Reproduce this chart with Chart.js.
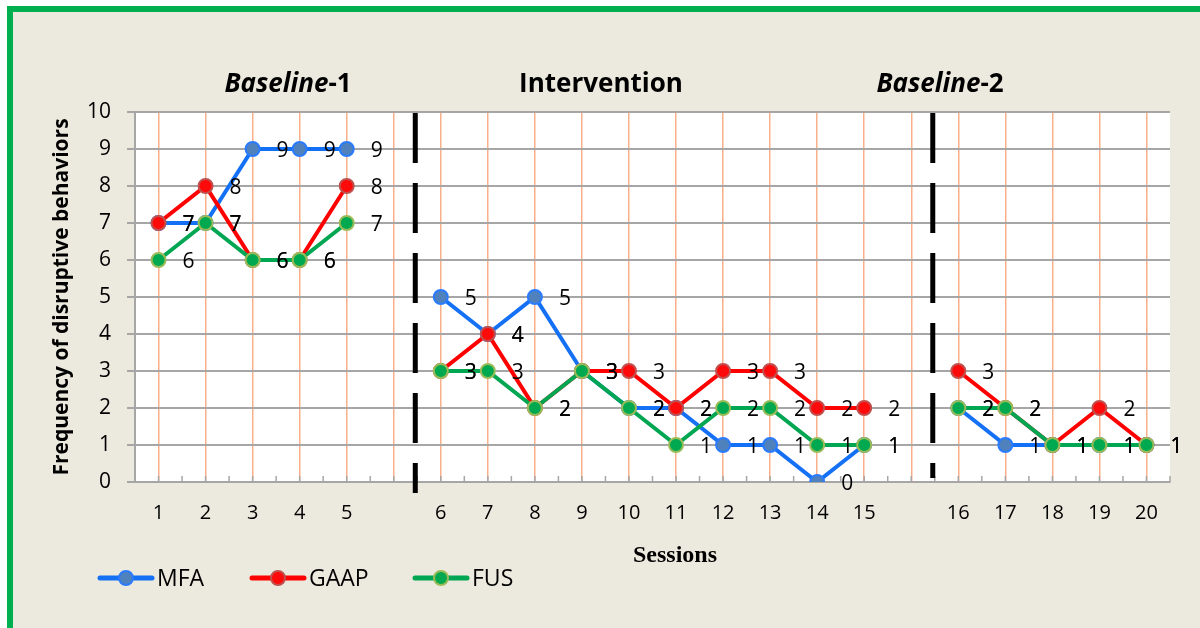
<!DOCTYPE html>
<html>
<head>
<meta charset="utf-8">
<script src="https://cdn.jsdelivr.net/npm/chart.js@4.4.0/dist/chart.umd.min.js"></script>
<style>
  body { margin: 0; background: #fff; }
  #wrap { width: 1200px; height: 628px; }
</style>
</head>
<body>
<div id="wrap"><canvas id="chart"></canvas></div>
<script>
// sessions, with an empty slot at each phase change
const sessions = ['1', '2', '3', '4', '5', '', '6', '7', '8', '9', '10', '11', '12', '13', '14', '15', '', '16', '17', '18', '19', '20'];
const mfa  = [7, 7, 9, 9, 9, null, 5, 4, 5, 3, 2, 2, 1, 1, 0, 1, null, 2, 1, 1, 1, 1];
const gaap = [7, 8, 6, 6, 8, null, 3, 4, 2, 3, 3, 2, 3, 3, 2, 2, null, 3, 2, 1, 2, 1];
const fus  = [6, 7, 6, 6, 7, null, 3, 3, 2, 3, 2, 1, 2, 2, 1, 1, null, 2, 2, 1, 1, 1];
const seriesNames = ['MFA', 'GAAP', 'FUS'];
// phase changes sit between these slots
const phaseBreaks = [[5, 6], [16, 17]];

const FONT = "'Open Sans', sans-serif";
Chart.defaults.font.family = FONT;
Chart.defaults.color = '#000';

const colors = {
  MFA:  { line: '#1470F5', fill: '#4F81BD', edge: '#2A7BFF' },
  GAAP: { line: '#FF0000', fill: '#FF0A0A', edge: '#C0504D' },
  FUS:  { line: '#00A651', fill: '#00A84F', edge: '#9BBB59' }
};

function makeSet(name, values, order) {
  const c = colors[name];
  return {
    label: name,
    data: values,
    order: order,
    borderColor: c.line,
    borderWidth: 4,
    pointBackgroundColor: c.fill,
    pointBorderColor: c.edge,
    pointBorderWidth: 2,
    pointRadius: 7,
    pointHoverRadius: 7,
    spanGaps: false,
    tension: 0
  };
}

const decor = {
  id: 'decor',
  beforeDraw(chart) {
    const ctx = chart.ctx, a = chart.chartArea;
    ctx.save();
    ctx.fillStyle = '#fff';
    ctx.fillRect(0, 0, 1200, 628);
    ctx.fillStyle = '#ECE9DE';
    ctx.fillRect(7, 6, 1193, 622);
    ctx.fillStyle = '#00B050';
    ctx.fillRect(7, 6, 1193, 6);
    ctx.fillRect(7, 6, 6, 622);
    ctx.fillStyle = '#fff';
    ctx.fillRect(a.left, a.top, a.right - a.left, a.bottom - a.top);
    ctx.restore();
  },
  beforeDatasetsDraw(chart) {
    const ctx = chart.ctx, a = chart.chartArea, x = chart.scales.x;
    ctx.save();
    // small inner ticks along the x axis
    ctx.strokeStyle = '#A6A6A6';
    ctx.lineWidth = 1.5;
    for (let i = -0.5; i <= sessions.length - 0.5; i += 0.5) {
      const px = x.getPixelForValue(i);
      ctx.beginPath();
      ctx.moveTo(px, a.bottom - 6);
      ctx.lineTo(px, a.bottom);
      ctx.stroke();
    }
    // phase change lines
    ctx.strokeStyle = '#000';
    ctx.lineWidth = 5;
    ctx.setLineDash([50, 20]);
    phaseBreaks.forEach((b, k) => {
      const px = (x.getPixelForValue(b[0]) + x.getPixelForValue(b[1])) / 2 - 2;
      ctx.beginPath();
      ctx.moveTo(px, a.top + 1);
      ctx.lineTo(px, k === 0 ? a.bottom + 11 : a.bottom - 4);
      ctx.stroke();
    });
    ctx.restore();
  },
  afterDatasetsDraw(chart) {
    const ctx = chart.ctx;
    ctx.save();
    ctx.font = '21px ' + FONT;
    ctx.fillStyle = '#000';
    ctx.textAlign = 'center';
    ctx.textBaseline = 'middle';
    chart.data.datasets.forEach((ds, i) => {
      chart.getDatasetMeta(i).data.forEach((pt, j) => {
        if (ds.data[j] === null) return;
        ctx.fillText(String(ds.data[j]), pt.x + 30, pt.y + 2);
      });
    });
    ctx.restore();
  },
  afterDraw(chart) {
    const ctx = chart.ctx, a = chart.chartArea;
    ctx.save();
    ctx.fillStyle = '#000';
    ctx.textBaseline = 'middle';

    // phase titles
    function mixed(parts, cx, cy) {
      let w = 0;
      parts.forEach(p => { ctx.font = p[1] + ' 26px ' + FONT; w += ctx.measureText(p[0]).width; });
      let px = cx - w / 2;
      ctx.textAlign = 'left';
      parts.forEach(p => {
        ctx.font = p[1] + ' 26px ' + FONT;
        ctx.fillText(p[0], px, cy);
        px += ctx.measureText(p[0]).width;
      });
    }
    mixed([['Baseline', 'italic bold'], ['-1', 'bold']], 288, 85);
    mixed([['Intervention', 'bold']], 601, 85);
    mixed([['Baseline', 'italic bold'], ['-2', 'bold']], 940, 85);

    // axis titles
    ctx.textAlign = 'center';
    ctx.font = "bold 24px 'Liberation Serif', serif";
    ctx.fillText('Sessions', 675, 556);
    ctx.save();
    ctx.translate(62, (a.top + a.bottom) / 2);
    ctx.rotate(-Math.PI / 2);
    ctx.font = 'bold 21px ' + FONT;
    ctx.fillText('Frequency of disruptive behaviors', 0, 0);
    ctx.restore();

    // legend
    const spots = [100, 252, 415];
    chart.data.datasets.forEach((ds, i) => {
      const x0 = spots[i], y0 = 578;
      ctx.strokeStyle = ds.borderColor;
      ctx.lineWidth = 5;
      ctx.lineCap = 'round';
      ctx.beginPath();
      ctx.moveTo(x0, y0);
      ctx.lineTo(x0 + 52, y0);
      ctx.stroke();
      ctx.beginPath();
      ctx.arc(x0 + 26, y0, 7, 0, Math.PI * 2);
      ctx.fillStyle = ds.pointBackgroundColor;
      ctx.fill();
      ctx.lineWidth = 2;
      ctx.strokeStyle = ds.pointBorderColor;
      ctx.stroke();
      ctx.fillStyle = '#000';
      ctx.textAlign = 'left';
      ctx.font = '23px ' + FONT;
      ctx.fillText(ds.label, x0 + 57, y0 + 1);
    });
    ctx.restore();
  }
};

new Chart(document.getElementById('chart'), {
  type: 'line',
  data: {
    labels: sessions,
    // FUS drawn on top, MFA underneath
    datasets: [makeSet(seriesNames[0], mfa, 3), makeSet(seriesNames[1], gaap, 2), makeSet(seriesNames[2], fus, 1)]
  },
  options: {
    responsive: true,
    maintainAspectRatio: false,
    animation: false,
    events: [],
    layout: { padding: { top: 112, right: 30, bottom: 0, left: 0 } },
    plugins: { legend: { display: false }, tooltip: { enabled: false } },
    scales: {
      x: {
        type: 'category',
        offset: true,
        afterFit: s => { s.height = 146; },
        grid: { offset: false, color: '#F9B08A', lineWidth: 1.5, drawTicks: false },
        border: { color: '#A6A6A6', width: 2 },
        ticks: { padding: 19, font: { size: 20 }, color: '#000', autoSkip: false, maxRotation: 0 }
      },
      y: {
        min: 0,
        max: 10,
        afterFit: s => { s.width = 135; },
        grid: { color: '#A6A6A6', lineWidth: 2, tickLength: 8 },
        border: { color: '#A6A6A6', width: 2 },
        ticks: { stepSize: 1, padding: 16, font: { size: 21 }, color: '#000' }
      }
    }
  },
  plugins: [decor]
});
</script>
</body>
</html>
